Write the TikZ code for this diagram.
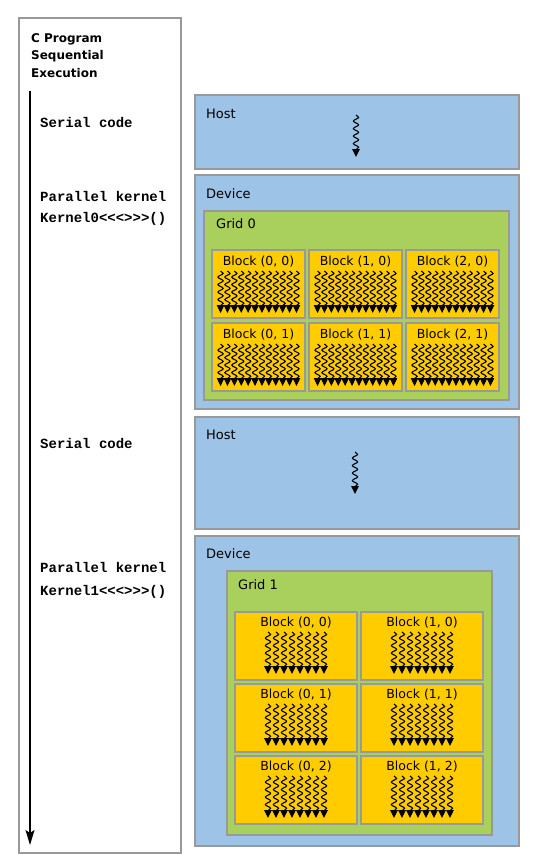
\documentclass[tikz,border=0pt]{standalone}
\usepackage{fontspec}
\setmainfont{DejaVu Sans}
\newfontfamily\codefont{Liberation Mono}
\usetikzlibrary{arrows.meta,decorations.pathmorphing}
\definecolor{hostblue}{HTML}{9DC3E6}
\definecolor{gridgreen}{HTML}{A9D05C}
\definecolor{blockyellow}{HTML}{FFCC00}
\definecolor{edgegray}{HTML}{999999}
\begin{document}
\begin{tikzpicture}[x=1pt,y=-1pt,>=Stealth,
  hostbox/.style={draw=edgegray,fill=hostblue,line width=1.3pt},
  gridbox/.style={draw=edgegray,fill=gridgreen,line width=1.3pt},
  blockbox/.style={draw=edgegray,fill=blockyellow,line width=1.3pt},
  boxlabel/.style={anchor=west,inner sep=0pt,font=\fontsize{13}{15}\selectfont},
  blocklabel/.style={inner sep=0pt,font=\fontsize{12.5}{14}\selectfont},
  codelabel/.style={anchor=west,inner sep=0pt,font=\codefont\bfseries\fontsize{14}{16}\selectfont},
  thread/.style={line width=1.1pt,decorate,
    decoration={snake,amplitude=2.6pt,segment length=7.5pt,post length=7pt},
    -{Triangle[width=7.5pt,length=8pt]}}]
\useasboundingbox (0,0) rectangle (546,862);
\draw[edgegray,line width=1.2pt] (19,18) rectangle (181,853);
\node[anchor=north west,inner sep=0pt,align=left,font=\bfseries\fontsize{12}{17.5}\selectfont] (title) at (31,33) {C Program\\Sequential\\Execution};
\coordinate (start) at (30,91);
\coordinate (stop) at (30,845);
\draw[-{Stealth[length=15pt,width=9pt,inset=3pt]},line width=1.6pt] (start)--(stop);
\node[codelabel] (serial0) at (40,122) {Serial code};
\node[codelabel] (par0) at (40,196) {Parallel kernel};
\node[codelabel] (kern0) at (40,219) {Kernel0<<<>>>()};
\node[codelabel] (serial1) at (40,443) {Serial code};
\node[codelabel] (par1) at (40,567) {Parallel kernel};
\node[codelabel] (kern1) at (40,592) {Kernel1<<<>>>()};
\draw[hostbox] (195,95) rectangle (519,169);
\node[boxlabel] (host0) at (206,114) {Host};
\draw[thread] (356,115)--(356,157);
\draw[hostbox] (195,175) rectangle (519,409);
\node[boxlabel] (dev0) at (206,194) {Device};
\draw[gridbox] (204,211) rectangle (509,400);
\node[boxlabel] (grid0) at (216,224) {Grid 0};
\foreach \i in {0,1,2}
  \foreach \j in {0,1}{
    \draw[blockbox] ({212+97*\i},{250+73*\j}) rectangle +(93,68);
    \node[blocklabel] (b0-\i-\j) at ({258.5+97*\i},{261.5+73*\j}) {Block (\i, \j)};
    \foreach \k in {0,...,11}
      \draw[thread] ({258.5+97*\i+(\k-5.5)*6.9},{271+73*\j})--+(0,42);
  }
\draw[hostbox] (195,417) rectangle (519,529);
\node[boxlabel] (host1) at (206,435) {Host};
\draw[thread] (355,452)--(355,494);
\draw[hostbox] (195,536) rectangle (519,846);
\node[boxlabel] (dev1) at (206,554) {Device};
\draw[gridbox] (227,571) rectangle (492,835);
\node[boxlabel] (grid1) at (238,585) {Grid 1};
\foreach \i in {0,1}
  \foreach \j in {0,1,2}{
    \draw[blockbox] ({235+126*\i},{612+72*\j}) rectangle +(122,68);
    \node[blocklabel] (b1-\i-\j) at ({296+126*\i},{623+72*\j}) {Block (\i, \j)};
    \foreach \k in {0,...,7}
      \draw[thread] ({296+126*\i+(\k-3.5)*8},{632+72*\j})--+(0,42);
  }
\end{tikzpicture}
\end{document}
